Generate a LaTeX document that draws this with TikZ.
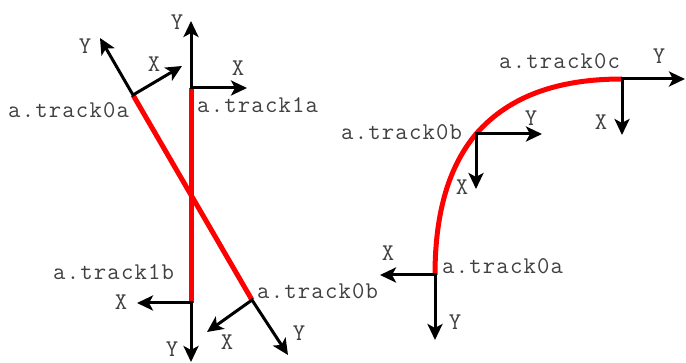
\documentclass[tikz,border=0pt]{standalone}
\usepackage{fontspec}
\setmonofont{Latin Modern Mono}[LetterSpace=5]
\usetikzlibrary{arrows.meta}
\definecolor{txt}{HTML}{404040}
\tikzset{
  track/.style={draw=red, line width=5pt},
  axes/.style={draw=black, line width=3pt, {Stealth[length=16pt,width=15pt,inset=4pt]}-{Stealth[length=16pt,width=15pt,inset=4pt]}},
  lbl/.style={inner sep=0pt, text=txt, font=\fontsize{24}{27}\selectfont\ttfamily},
  tname/.style={lbl, anchor=base west},
}
\begin{document}
\begin{tikzpicture}[x=1pt,y=-1pt]
\useasboundingbox (0,0) rectangle (686,363);
% ---------- left: crossing straight tracks ----------
\coordinate (L0a) at (133,95);
\coordinate (L0ax) at (182,66);
\coordinate (L0ay) at (100,38);
\coordinate (L1a) at (191,88);
\coordinate (L1ax) at (247,88);
\coordinate (L1ay) at (191,21);
\coordinate (L1b) at (191,303);
\coordinate (L1bx) at (137,303);
\coordinate (L1by) at (191,362);
\coordinate (L0b) at (252,300);
\coordinate (L0bx) at (207,332);
\coordinate (L0by) at (288,355);
\draw[track] (L0a) -- (L0b);
\draw[track] (L1a) -- (L1b);
\draw[axes] (L0ax) -- (L0a) -- (L0ay);
\draw[axes] (L1ax) -- (L1a) -- (L1ay);
\draw[axes] (L1bx) -- (L1b) -- (L1by);
\draw[axes] (L0bx) -- (L0b) -- (L0by);
\node[tname] (nL0a) at (8,118) {a.track0a};
\node[tname] (nL1a) at (197,113) {a.track1a};
\node[tname] (nL1b) at (53,280) {a.track1b};
\node[tname] (nL0b) at (257,299) {a.track0b};
\node[lbl] (yL0a) at (85,46) {Y};
\node[lbl] (xL0a) at (154,64) {X};
\node[lbl] (yL1a) at (177,22) {Y};
\node[lbl] (xL1a) at (238,68) {X};
\node[lbl] (xL1b) at (121,302) {X};
\node[lbl] (yL1b) at (172,349) {Y};
\node[lbl] (xL0b) at (227,342) {X};
\node[lbl] (yL0b) at (299,333) {Y};
% ---------- right: curved track ----------
\coordinate (R0a) at (435,275);
\coordinate (R0ax) at (380,275);
\coordinate (R0ay) at (435,340);
\coordinate (R0b) at (476,134);
\coordinate (R0bx) at (476,189);
\coordinate (R0by) at (542,134);
\coordinate (R0c) at (622,79);
\coordinate (R0cx) at (622,135);
\coordinate (R0cy) at (685,79);
\draw[track] (R0a) .. controls (435,210) and (450,165) .. (R0b)
                   .. controls (510,95) and (560,79) .. (R0c);
\draw[axes] (R0ax) -- (R0a) -- (R0ay);
\draw[axes] (R0bx) -- (R0b) -- (R0by);
\draw[axes] (R0cx) -- (R0c) -- (R0cy);
\node[tname] (nR0a) at (442,274) {a.track0a};
\node[tname] (nR0b) at (341,140) {a.track0b};
\node[tname] (nR0c) at (499,69) {a.track0c};
\node[lbl] (xR0a) at (388,253) {X};
\node[lbl] (yR0a) at (455,322) {Y};
\node[lbl] (xR0b) at (462,187) {X};
\node[lbl] (yR0b) at (531,118) {Y};
\node[lbl] (xR0c) at (601,122) {X};
\node[lbl] (yR0c) at (659,56) {Y};
\end{tikzpicture}
\end{document}
